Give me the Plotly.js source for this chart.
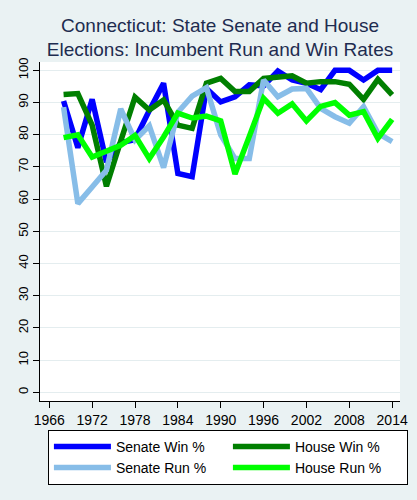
<!DOCTYPE html>
<html>
<head>
<meta charset="utf-8">
<script src="https://cdn.plot.ly/plotly-3.0.1.min.js"></script>
<style>html,body{margin:0;padding:0;background:#eaf2f3;}</style>
</head>
<body>
<div id="chart" style="width:417px;height:500px;"></div>
<script>
const years = [1968,1970,1972,1974,1976,1978,1980,1982,1984,1986,1988,1990,1992,1994,1996,1998,2000,2002,2004,2006,2008,2010,2012,2014];
const senateWin = [90.5,76,91,71.5,77.5,78.5,87.5,96,68,67,94.4,90.2,91.8,95.5,95.2,99.8,97,96,94,100,100,97,100,100];
const houseWin  = [92.5,92.8,83,64,78,91.7,87.7,90.8,83,82,96,97.5,93.4,93.4,97.5,98,98.3,96,96.5,96.5,95.7,91,97.2,92.4];
const senateRun = [88.6,58.6,63.8,69,88,78.4,82.8,69.8,87,92,94.6,80,72.6,72.6,97,91.8,94.2,94.4,88.2,85.6,83.6,88.7,80.5,77.9];
const houseRun  = [79.1,80,73.1,74.7,76.7,79.8,72.6,79.3,86.7,85.2,85.8,84.3,67.8,79.5,91.3,86.7,89.6,84.3,88.8,90,86.1,87.2,78.9,84.8];
const xTicks = [1966,1972,1978,1984,1990,1996,2002,2008,2014];
const yTicks = [0,10,20,30,40,50,60,70,80,90,100];

const font = "Liberation Sans, Arial, sans-serif";
function tr(name, y, color) {
  return {x: years, y: y, name: name, type: 'scatter', mode: 'lines',
          line: {color: color, width: 5.5}};
}
const data = [
  tr('Senate Win %', senateWin, '#0000ff'),
  tr('House Win %', houseWin, '#007f00'),
  tr('Senate Run %', senateRun, '#87bde8'),
  tr('House Run %', houseRun, '#00ff00')
];
const layout = {
  width: 417, height: 500,
  margin: {l: 40, r: 17, t: 62, b: 99},
  paper_bgcolor: '#eaf2f3',
  plot_bgcolor: '#ffffff',
  font: {family: font, color: '#000'},
  title: {
    text: 'Connecticut: State Senate and House<br>Elections: Incumbent Run and Win Rates',
    font: {family: font, size: 19, color: '#1e2c50'},
    x: 0.5, xref: 'paper', xanchor: 'center',
    y: 0.937, yref: 'container', yanchor: 'middle'
  },
  xaxis: {
    range: [1964.7, 2015.1], tickvals: xTicks, ticktext: xTicks.map(String),
    ticks: 'outside', ticklen: 6, tickcolor: '#000', tickwidth: 1,
    showline: true, linecolor: '#000', linewidth: 1,
    showgrid: false, zeroline: false,
    tickfont: {family: font, size: 14, color: '#000'}
  },
  yaxis: {
    range: [-2.7, 102.6], tickvals: yTicks, ticktext: yTicks.map(String),
    ticks: 'outside', ticklen: 6, tickcolor: '#000', tickwidth: 1,
    tickangle: -90,
    showline: true, linecolor: '#000', linewidth: 1,
    showgrid: true, gridcolor: '#e4edef', gridwidth: 1, zeroline: false,
    tickfont: {family: font, size: 13, color: '#000'}
  },
  showlegend: true,
  legend: {
    orientation: 'h', x: 0.022, y: -0.085, xanchor: 'left', yanchor: 'top',
    bgcolor: '#ffffff', bordercolor: '#000', borderwidth: 1,
    font: {family: font, size: 14, color: '#000'},
    itemwidth: 57, entrywidth: 107, entrywidthmode: 'pixels',
    traceorder: 'normal'
  }
};
Plotly.newPlot('chart', data, layout, {displayModeBar: false, staticPlot: true});
</script>
</body>
</html>
